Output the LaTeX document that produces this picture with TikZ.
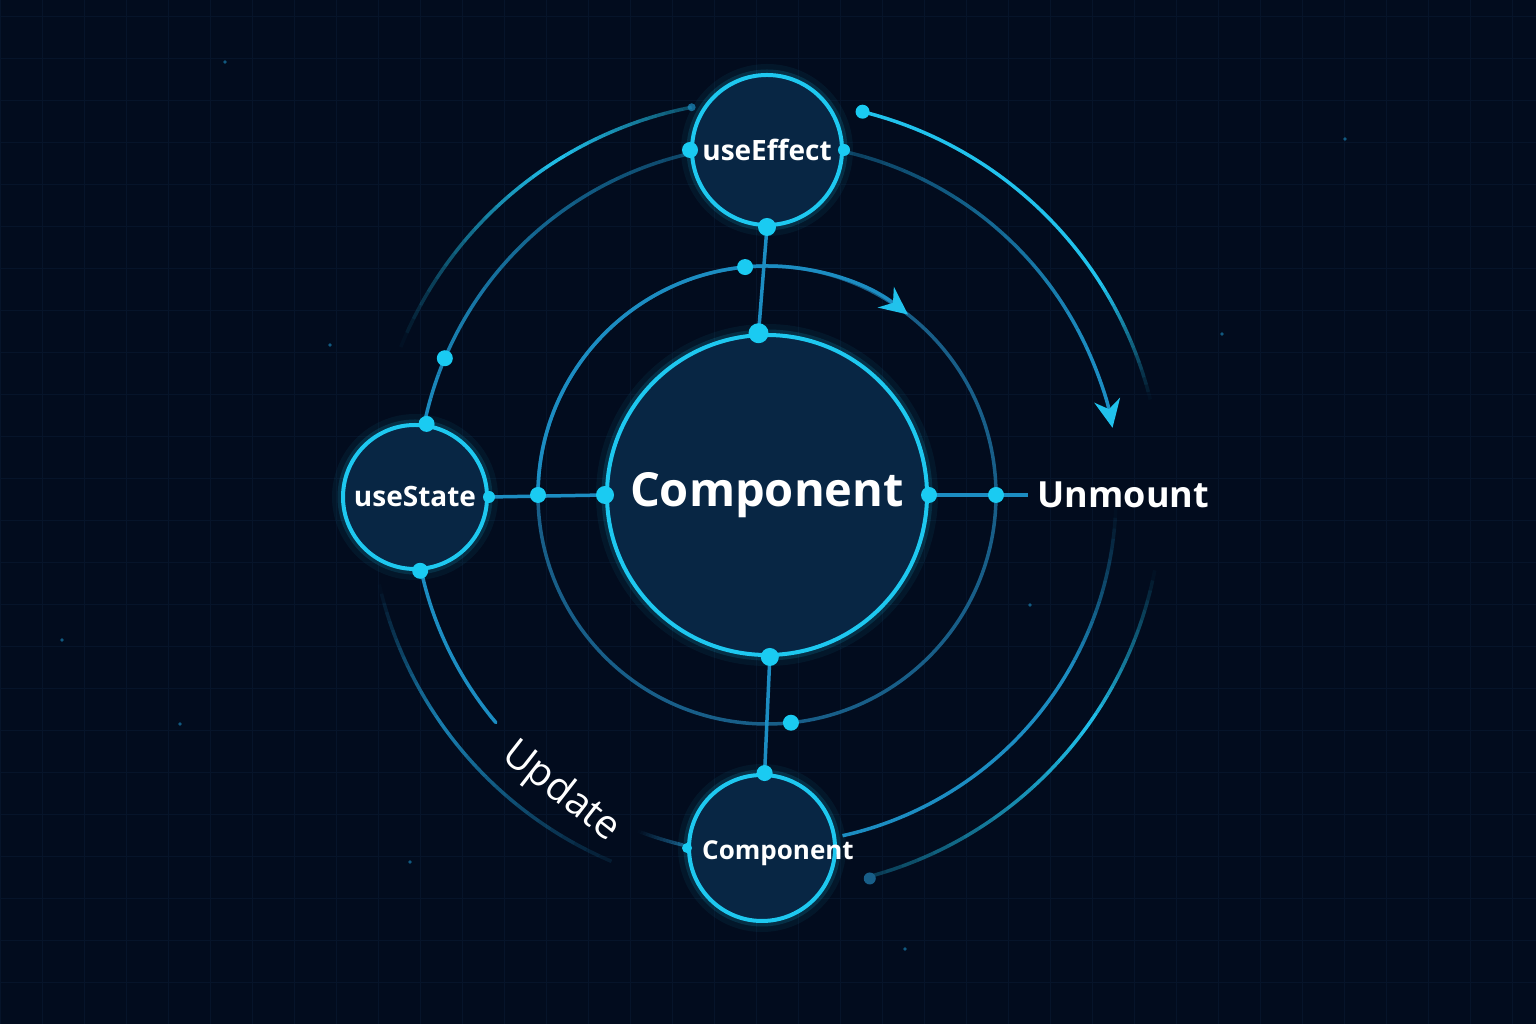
\documentclass[tikz,border=0pt]{standalone}
\usepackage{fontspec}
\setmainfont{Open Sans}
\usetikzlibrary{arrows.meta,positioning}

\definecolor{bg}{HTML}{020C1E}
\definecolor{gridc}{HTML}{06142A}
\definecolor{edge}{HTML}{1EC8F0}
\definecolor{dotc}{HTML}{1ACBF2}
\definecolor{ringhi}{HTML}{21C2EC}
\definecolor{ringmid}{HTML}{1C8DC2}
\definecolor{ringlo}{HTML}{185E88}
\definecolor{orbIn}{HTML}{082644}
\definecolor{orbOut}{HTML}{135684}

\pgfdeclareradialshading{orbshade}{\pgfpoint{0bp}{0bp}}{color(0bp)=(orbIn); color(28bp)=(orbIn); color(50bp)=(orbOut)}

\tikzset
{
    orb/.style     = {circle, draw=edge, line width=4pt, shade, shading=orbshade, inner sep=0pt, text=white, font=\bfseries\fontsize{28}{34}\selectfont},
    orbtext/.style = {text=white, font=\bfseries\fontsize{26}{32}\selectfont},
    ring/.style    = {line width=3.5pt},
    link/.style    = {draw=ringmid, line width=3.5pt},
    tip/.style     = {-{Stealth[length=28pt, width=26pt, inset=9pt, color=ringhi]}},
    lbl/.style     = {text=white, font=\bfseries\fontsize{36}{44}\selectfont},
    upd/.style     = {text=white, font=\fontsize{40}{46}\selectfont}
}

% arc round the hub in short pieces, opacity going from #5 to #6
\newcommand{\ringfade}[6]{%
  \foreach \k in {1,...,16}{%
    \pgfmathsetmacro{\angA}{#3+(#4-#3)*(\k-1)/16}%
    \pgfmathsetmacro{\angB}{#3+(#4-#3)*\k/16}%
    \pgfmathsetmacro{\opk}{#5+(#6-#5)*(\k-0.5)/16}%
    \draw[#1, draw opacity=\opk] ([shift={(\angA:#2)}]hub) arc[start angle=\angA, end angle=\angB, radius=#2];
  }}

\begin{document}
\begin{tikzpicture}[x=1pt, y=1pt]
	\useasboundingbox (0,0) rectangle (1536,1024);
	\fill[bg] (0,0) rectangle (1536,1024);
	\draw[gridc, line width=0.8pt] (0,0) grid[step=42] (1536,1024);
	\foreach \sx/\sy in {225/962, 330/679, 62/384, 410/162, 1030/419, 1222/690, 905/75, 1345/885, 180/300}
		\fill[ringmid, opacity=0.6] (\sx,\sy) circle[radius=1.8];

	\coordinate (hub) at (767,529);

	% inner ring
	\draw[ring, ringlo] (hub) circle[radius=229];
	\draw[ring, ringmid, tip] ([shift={(180:229)}]hub) arc[start angle=180, end angle=52, radius=229];

	% middle ring
	\ringfade{ring, ringmid}{350}{103}{168}{0.45}{1}
	\draw[ring, ringmid, line cap=round] ([shift={(192.5:354)}]hub) arc[start angle=192.5, end angle=220, radius=354];
	\ringfade{ring, ringlo}{360}{249}{256.5}{0}{1}
	\ringfade{ring, ringmid}{352}{77}{25}{0.4}{1}
	\draw[ring, ringmid, tip] ([shift={(25:352)}]hub) arc[start angle=25, end angle=11, radius=352];
	\ringfade{ring, ringmid}{349}{-2}{-30}{0}{1}
	\draw[ring, ringmid] ([shift={(-30:349)}]hub) arc[start angle=-30, end angle=-77.5, radius=349];

	% outer ring
	\draw[ring, ringhi] ([shift={(76:395)}]hub) arc[start angle=76, end angle=32, radius=395];
	\ringfade{ring, ringhi}{395}{32}{14}{1}{0}
	\ringfade{ring, ringhi}{395}{-11}{-35}{0}{1}
	\ringfade{ring, ringhi}{395}{-35}{-75}{1}{0.25}
	\ringfade{ring, ringhi}{395}{101}{122}{0.35}{1}
	\ringfade{ring, ringhi}{395}{122}{158}{1}{0}
	\ringfade{ring, ringmid}{398}{193}{215}{0}{0.9}
	\ringfade{ring, ringmid}{398}{215}{247}{0.9}{0.1}

	% glow
	\foreach \hx/\hy/\hr in {767/529/160, 767/874/75, 415/527/72, 762/176/73}{
		\draw[edge, line width=22pt, opacity=0.06] (\hx,\hy) circle[radius=\hr];
		\draw[edge, line width=11pt, opacity=0.14] (\hx,\hy) circle[radius=\hr];
	}

	\node[orb, minimum size=320pt, font=\bfseries\fontsize{47}{56}\selectfont] (core) at (hub) {Component};
	\node[orb, minimum size=150pt] (eff) at (767,874) {useEffect};
	\node[orb, minimum size=144pt] (st) at (415,527) {useState};
	\node[orb, minimum size=146pt, label={[orbtext, xshift=16pt, yshift=-5pt]center:Component}] (bot) at (762,176) {};

	\coordinate (umEnd) at (1028,529);
	\draw[link] (eff.south) -- (core.93);
	\draw[link] (st.east) -- (core.west);
	\draw[link] (core.east) -- (umEnd);
	\draw[link] (core.-89) -- (bot.88);

	\node[lbl, right=6pt of umEnd] (um) {Unmount};
	\node[upd, rotate=-38] (upd) at (561,232) {Update};

	% dots
	\coordinate (inTop) at ([shift={(95.5:229)}]hub);
	\coordinate (inLeft) at ([shift={(180:229)}]hub);
	\coordinate (inRight) at ([shift={(0:229)}]hub);
	\coordinate (inBot) at ([shift={(-84:229)}]hub);
	\coordinate (midDot) at ([shift={(157:350)}]hub);
	\coordinate (outA) at ([shift={(76:395)}]hub);
	\coordinate (outB) at ([shift={(-75:397)}]hub);
	\coordinate (outC) at ([shift={(101:395)}]hub);
	\foreach \p/\r in {eff.west/8, eff.east/6, eff.south/9, inTop/8, core.93/10, midDot/8, st.81/8, st.-86/8, st.east/6, inLeft/8, core.west/9, core.east/8, inRight/8, core.-89/9, inBot/8, bot.88/8, bot.west/5, outA/7}
		\fill[dotc] (\p) circle[radius=\r];
	\fill[ringlo] (outB) circle[radius=6];
	\fill[ringmid, opacity=0.7] (outC) circle[radius=4];
\end{tikzpicture}
\end{document}
